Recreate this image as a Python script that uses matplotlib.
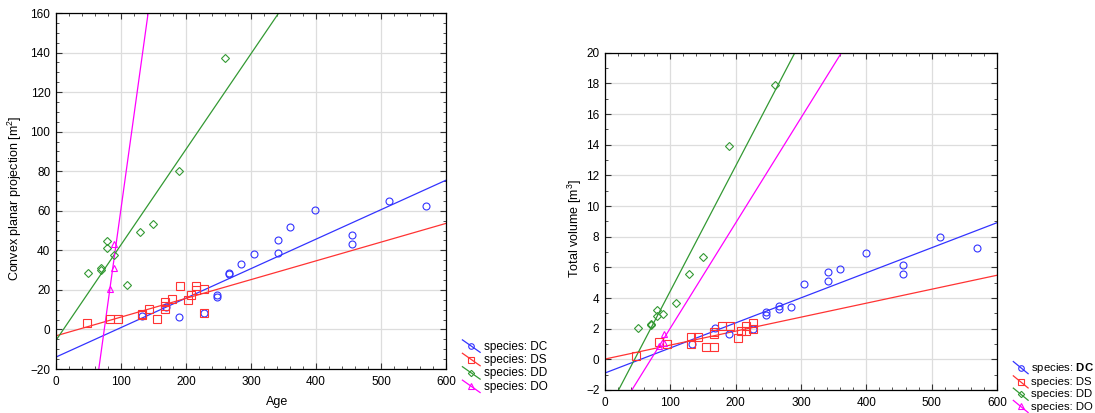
import matplotlib
matplotlib.use('Agg')
import matplotlib.pyplot as plt
import numpy as np
from matplotlib.lines import Line2D
from matplotlib.legend_handler import HandlerLine2D
from matplotlib.ticker import MultipleLocator

plt.rcParams['font.family'] = ['Liberation Sans', 'DejaVu Sans']
plt.rcParams['mathtext.fontset'] = 'custom'
plt.rcParams['mathtext.rm'] = 'Liberation Sans'
plt.rcParams['mathtext.bf'] = 'Liberation Sans:bold'

# Age and values per species
dc_age = [133, 169, 190, 227, 247, 247, 266, 266, 284, 304, 341, 341, 360, 399, 456, 456, 513, 570]
dc_proj = [7, 11.5, 6.2, 8.5, 17.5, 16.5, 28, 28.5, 33, 38, 45, 38.5, 52, 60.2, 47.6, 43.2, 65, 62.3]
dc_vol = [1.0, 2.05, 1.62, 1.95, 3.06, 2.88, 3.49, 3.27, 3.42, 4.9, 5.7, 5.1, 5.87, 6.93, 6.17, 5.56, 7.97, 7.27]

ds_age = [47, 83, 95, 132, 132, 143, 155, 167, 167, 167, 179, 191, 203, 208, 216, 216, 227, 227]
ds_proj = [3.4, 5.3, 5.3, 7.3, 8, 10.2, 5.5, 13.8, 12, 10.5, 15.6, 22, 15, 17.3, 22, 20, 20.3, 8.5]
ds_vol = [0.2, 1.15, 1.0, 1.47, 0.97, 1.47, 0.83, 0.83, 1.8, 1.63, 2.15, 2.2, 1.4, 1.83, 2.15, 1.85, 2.37, 1.95]

dd_age = [50, 70, 70, 79, 79, 89, 109, 129, 150, 190, 260]
dd_proj = [28.6, 31.2, 29.9, 44.6, 41, 37.7, 22.3, 49.3, 53.3, 80.1, 137.2]
dd_vol = [2.06, 2.27, 2.3, 3.25, 2.8, 2.93, 3.7, 5.54, 6.67, 13.9, 17.87]

do_age = [83, 90, 90]
do_proj = [20.6, 31, 43.4]
do_vol = [0.87, 1.05, 1.65]

species = ['DC', 'DS', 'DD', 'DO']
colors = ['#3333ff', '#ff3333', '#339933', '#ff00ff']
markers = ['o', 's', 'D', '^']
msizes = [5, 5.5, 4, 5]


class DiagHandler(HandlerLine2D):
    # legend handle drawn as a short diagonal line with the marker in the middle
    def create_artists(self, legend, orig_handle, xdescent, ydescent,
                       width, height, fontsize, trans):
        x0, x1 = -xdescent, width - xdescent
        y0, y1 = height - ydescent + 1, -ydescent - 2
        line = Line2D([x0, x1], [y0, y1])
        self.update_prop(line, orig_handle, legend)
        line.set_marker('')
        mk = Line2D([(x0 + x1) / 2], [(y0 + y1) / 2])
        self.update_prop(mk, orig_handle, legend)
        mk.set_linestyle('')
        mk.set_markersize(orig_handle.get_markersize() * 0.8)
        line.set_transform(trans)
        mk.set_transform(trans)
        return [line, mk]


def draw_panel(ax, data, ylim, ymajor, yminor):
    xs = np.array([0, 600])
    handles = []
    for (age, val), name, c, m, ms in zip(data, species, colors, markers, msizes):
        ax.plot(age, val, linestyle='none', marker=m, markersize=ms,
                markerfacecolor='none', markeredgecolor=c, markeredgewidth=0.8, zorder=3)
        b, a = np.polyfit(age, val, 1)
        ax.plot(xs, a + b * xs, color=c, linewidth=0.9, zorder=2)
        handles.append(Line2D([], [], color=c, linewidth=0.9, marker=m, markersize=ms,
                              markerfacecolor='none', markeredgecolor=c, markeredgewidth=0.8))
    ax.set_xlim(0, 600)
    ax.set_ylim(*ylim)
    ax.xaxis.set_major_locator(MultipleLocator(100))
    ax.xaxis.set_minor_locator(MultipleLocator(20))
    ax.yaxis.set_major_locator(MultipleLocator(ymajor))
    ax.yaxis.set_minor_locator(MultipleLocator(yminor))
    ax.tick_params(which='both', direction='in', top=True, right=True, labelsize=8.5,
                   color='#333333')
    ax.tick_params(which='major', length=4, width=0.8)
    ax.tick_params(which='minor', length=2, width=0.6)
    ax.grid(True, which='major', color='#dddddd', linewidth=0.9)
    ax.set_axisbelow(True)
    for s in ax.spines.values():
        s.set_linewidth(0.9)
    return handles


fig = plt.figure(figsize=(10.95, 4.13), dpi=100)
ax1 = fig.add_axes([0.0511, 0.1065, 0.3562, 0.862])
ax2 = fig.add_axes([0.5525, 0.0557, 0.358, 0.8167])

h1 = draw_panel(ax1, [(dc_age, dc_proj), (ds_age, ds_proj), (dd_age, dd_proj), (do_age, do_proj)],
                (-20, 160), 20, 5)
h2 = draw_panel(ax2, [(dc_age, dc_vol), (ds_age, ds_vol), (dd_age, dd_vol), (do_age, do_vol)],
                (-2, 20), 2, 1)

ax1.tick_params(axis='x', pad=5)
ax1.tick_params(axis='y', pad=4)
ax2.tick_params(axis='x', pad=5)
ax2.tick_params(axis='y', pad=4)

ax1.text(0.567, -0.092, 'Age', transform=ax1.transAxes, ha='center', va='center', fontsize=9)
ax1.text(-0.105, 0.48, 'Convex planar projection [m$^2$]', transform=ax1.transAxes,
         ha='center', va='center', rotation=90, fontsize=9)
ax2.text(-0.0765, 0.48, 'Total volume [m$^3$]', transform=ax2.transAxes,
         ha='center', va='center', rotation=90, fontsize=9)

labels = ['species: ' + s for s in species]
leg1 = ax1.legend(h1, labels, loc='lower left', bbox_to_anchor=(1.03, -0.08), frameon=False,
                  fontsize=8.5, handlelength=1.5, handletextpad=0.3, labelspacing=0.12,
                  borderaxespad=0, handler_map={Line2D: DiagHandler()})
labels2 = ['species: $\\mathbf{DC}$'] + labels[1:]
leg2 = ax2.legend(h2, labels2, loc='lower left', bbox_to_anchor=(1.03, -0.078), frameon=False,
                  fontsize=8.2, handlelength=1.3, handletextpad=0.25, labelspacing=0.2,
                  borderaxespad=0, handler_map={Line2D: DiagHandler()})

fig.savefig('out.png', dpi=100)
plt.close(fig)
